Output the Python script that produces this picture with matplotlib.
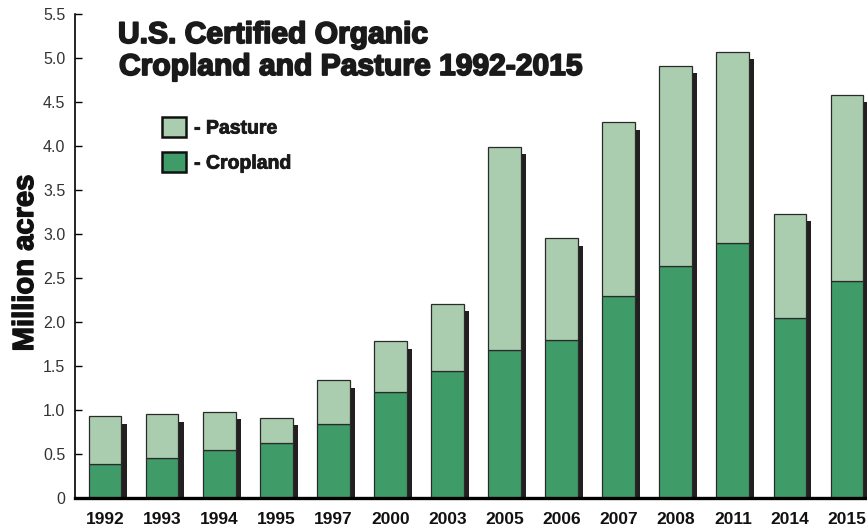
import matplotlib
matplotlib.use("Agg")
import matplotlib.pyplot as plt
from matplotlib import font_manager
from matplotlib.patches import Patch
import matplotlib.patheffects as pe
import numpy as np

years = ["1992", "1993", "1994", "1995", "1997", "2000", "2003", "2005",
         "2006", "2007", "2008", "2011", "2014", "2015"]
cropland = [0.39, 0.46, 0.55, 0.63, 0.84, 1.21, 1.44, 1.68,
            1.79, 2.29, 2.64, 2.90, 2.04, 2.47]
total = [0.93, 0.95, 0.98, 0.91, 1.34, 1.78, 2.21, 3.99,
         2.95, 4.27, 4.91, 5.07, 3.23, 4.58]
pasture = [t - c for t, c in zip(total, cropland)]
yticks = [0, 0.5, 1.0, 1.5, 2.0, 2.5, 3.0, 3.5, 4.0, 4.5, 5.0, 5.5]
ytick_labels = ["0", "0.5", "1.0", "1.5", "2.0", "2.5", "3.0", "3.5",
                "4.0", "4.5", "5.0", "5.5"]
title_lines = ["U.S. Certified Organic", "Cropland and Pasture 1992-2015"]
ylabel = "Million acres"

names = {f.name for f in font_manager.fontManager.ttflist}
narrow = "Liberation Sans Narrow" if "Liberation Sans Narrow" in names else (
    "DejaVu Sans Condensed" if "DejaVu Sans Condensed" in names else "Liberation Sans")
reg = "Liberation Sans" if "Liberation Sans" in names else "DejaVu Sans"

C_PAST = "#aacdaf"
C_CROP = "#3f9c69"
C_SHAD = "#231f20"
C_EDGE = "#2a2a2a"

W, H = 867, 527
fig = plt.figure(figsize=(W / 100, H / 100), dpi=100)
ax = fig.add_axes([75 / W, 1 - 498 / H, 1 - 75 / W, (498 - 14) / H])

x = np.arange(len(years))
bw = 0.575
sx = 0.09     # shadow offset (x, data units)
sy = 0.085    # shadow drop (y, data units)

ax.bar(x + sx, [t - sy for t in total], width=bw, color=C_SHAD, zorder=1, linewidth=0)
ax.bar(x, cropland, width=bw, color=C_CROP, edgecolor=C_EDGE, linewidth=0.9, zorder=2)
ax.bar(x, pasture, bottom=cropland, width=bw, color=C_PAST, edgecolor=C_EDGE,
       linewidth=0.9, zorder=2)

ax.set_xlim(-0.525, 13.35)
ax.set_ylim(0, 5.5)
ax.set_yticks(yticks)
ax.set_yticklabels(ytick_labels, fontfamily=reg, fontsize=11.5, color="#333333")
ax.tick_params(axis="y", direction="in", length=5, width=1, pad=7)
ax.set_xticks(x)
ax.set_xticklabels(years, fontfamily=narrow, fontweight="bold", fontsize=12.5, color="#111111")
ax.tick_params(axis="x", length=0, pad=10)

for s in ("top", "right"):
    ax.spines[s].set_visible(False)
ax.spines["left"].set_linewidth(1.2)
ax.spines["bottom"].set_linewidth(2.4)
ax.spines["bottom"].set_zorder(5)

heavy = [pe.withStroke(linewidth=1.0, foreground="#111111")]

fig.text(25 / W, 1 - 263 / H, ylabel, rotation=90, ha="center", va="center",
         fontfamily=narrow, fontweight="bold", fontsize=21, color="#111111",
         path_effects=heavy)

fig.text(118 / W, 1 - 43 / H, title_lines[0], ha="left", va="baseline",
         fontfamily=reg, fontweight="bold", fontsize=21.6, color="#1a1a1a",
         path_effects=[pe.withStroke(linewidth=1.3, foreground="#1a1a1a")])
fig.text(119 / W, 1 - 75 / H, title_lines[1], ha="left", va="baseline",
         fontfamily=reg, fontweight="bold", fontsize=21.6, color="#1a1a1a",
         path_effects=[pe.withStroke(linewidth=1.3, foreground="#1a1a1a")])

handles = [Patch(facecolor=C_PAST, edgecolor="#111111", linewidth=1.8),
           Patch(facecolor=C_CROP, edgecolor="#111111", linewidth=1.8)]
leg = fig.legend(handles, ["- Pasture", "- Cropland"], loc="upper left",
                 bbox_to_anchor=(162 / W, 1 - 117 / H), bbox_transform=fig.transFigure,
                 frameon=False, borderpad=0, borderaxespad=0,
                 handlelength=1.25, handleheight=1.2, handletextpad=0.4,
                 labelspacing=0.75,
                 prop={"family": narrow, "weight": "bold", "size": 14})
for t in leg.get_texts():
    t.set_color("#1a1a1a")
    t.set_path_effects([pe.withStroke(linewidth=0.6, foreground="#1a1a1a")])

fig.savefig("out.png", dpi=100)
